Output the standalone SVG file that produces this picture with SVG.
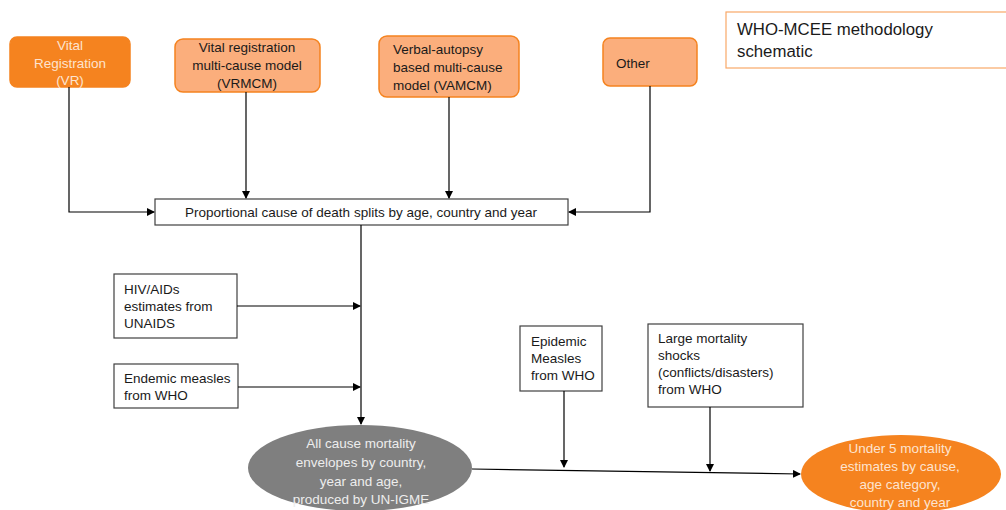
<svg xmlns="http://www.w3.org/2000/svg" width="1006" height="510" viewBox="0 0 1006 510">
<defs>
<marker id="ah" markerWidth="8" markerHeight="8" refX="7" refY="4" orient="auto" markerUnits="userSpaceOnUse">
<path d="M0,0 L8,4 L0,8 Z" fill="#000"/>
</marker>
<style>
text{font-family:"Liberation Sans",Arial,sans-serif;font-size:13.5px;fill:#1a1a1a}
.dark{fill:#F5831F;stroke:#F5831F;stroke-width:1.5}
.light{fill:#FBAE7C;stroke:#F5831F;stroke-width:1.5}
.plain{fill:#fff;stroke:#404040;stroke-width:1.2}
.wt{fill:#FDE3CF}
.con{fill:none;stroke:#000;stroke-width:1.2}
.c{text-anchor:middle}
</style>
</defs>
<rect width="1006" height="510" fill="#fff"/>
<g id="title">
<rect x="726" y="12" width="290" height="56" fill="#fff" stroke="#F8A868" stroke-width="1.2"/>
<text x="737" y="35" style="font-size:16.8px">WHO-MCEE methodology</text>
<text x="737" y="57" style="font-size:16.8px">schematic</text>
</g>
<g id="vr">
<rect class="dark" x="10" y="37" width="120" height="50" rx="7"/>
<text class="c wt" x="70" y="50">Vital</text>
<text class="c wt" x="70" y="68">Registration</text>
<text class="c wt" x="70" y="85">(VR)</text>
</g>
<g id="vrmcm">
<rect class="light" x="175" y="39" width="145" height="53" rx="8"/>
<text class="c" x="247" y="52">Vital registration</text>
<text class="c" x="247" y="70">multi-cause model</text>
<text class="c" x="247" y="88">(VRMCM)</text>
</g>
<g id="vamcm">
<rect class="light" x="379" y="36" width="140" height="61" rx="8"/>
<text x="393" y="54">Verbal-autopsy</text>
<text x="393" y="72">based multi-cause</text>
<text x="393" y="90">model (VAMCM)</text>
</g>
<g id="other">
<rect class="light" x="603" y="38" width="94" height="48" rx="7"/>
<text x="616" y="68">Other</text>
</g>
<g id="splits">
<rect class="plain" x="155" y="199" width="413" height="26"/>
<text class="c" x="361" y="217">Proportional cause of death splits by age, country and year</text>
</g>
<g id="hiv">
<rect class="plain" x="114" y="274" width="123" height="64"/>
<text x="124" y="294">HIV/AIDs</text>
<text x="124" y="311">estimates from</text>
<text x="124" y="328">UNAIDS</text>
</g>
<g id="endemic">
<rect class="plain" x="114" y="364" width="124" height="44"/>
<text x="124" y="383">Endemic measles</text>
<text x="124" y="400">from WHO</text>
</g>
<g id="epidemic">
<rect class="plain" x="520" y="326" width="82" height="65"/>
<text x="531" y="346">Epidemic</text>
<text x="531" y="363">Measles</text>
<text x="531" y="380">from WHO</text>
</g>
<g id="shocks">
<rect class="plain" x="648" y="324" width="155" height="83"/>
<text x="658" y="343">Large mortality</text>
<text x="658" y="360">shocks</text>
<text x="658" y="377">(conflicts/disasters)</text>
<text x="658" y="394">from WHO</text>
</g>
<g id="envelopes">
<ellipse cx="360" cy="468" rx="112" ry="43" fill="#7F7F7F"/>
<text class="c" x="361" y="448" style="fill:#EDEDED">All cause mortality</text>
<text class="c" x="361" y="467" style="fill:#EDEDED">envelopes by country,</text>
<text class="c" x="361" y="486" style="fill:#EDEDED">year and age,</text>
<text class="c" x="361" y="504" style="fill:#EDEDED">produced by UN-IGME</text>
</g>
<g id="under5">
<ellipse cx="901" cy="474" rx="100" ry="39" fill="#F5831F"/>
<text class="c wt" x="900" y="453">Under 5 mortality</text>
<text class="c wt" x="900" y="471">estimates by cause,</text>
<text class="c wt" x="900" y="489">age category,</text>
<text class="c wt" x="900" y="507">country and year</text>
</g>
<g id="connectors">
<path class="con" d="M69,87 V212 H154" stroke="#666" marker-end="url(#ah)"/>
<path class="con" d="M246,92 V198" marker-end="url(#ah)"/>
<path class="con" d="M449,97 V198" marker-end="url(#ah)"/>
<path class="con" d="M650,86 V212 H569" marker-end="url(#ah)"/>
<path class="con" d="M361,225 V424" marker-end="url(#ah)"/>
<path class="con" d="M237,306 H360" marker-end="url(#ah)"/>
<path class="con" d="M238,387 H360" marker-end="url(#ah)"/>
<path class="con" d="M472,469 L800,474" marker-end="url(#ah)"/>
<path class="con" d="M564,391 V467" marker-end="url(#ah)"/>
<path class="con" d="M710,407 V471" marker-end="url(#ah)"/>
</g>
</svg>
